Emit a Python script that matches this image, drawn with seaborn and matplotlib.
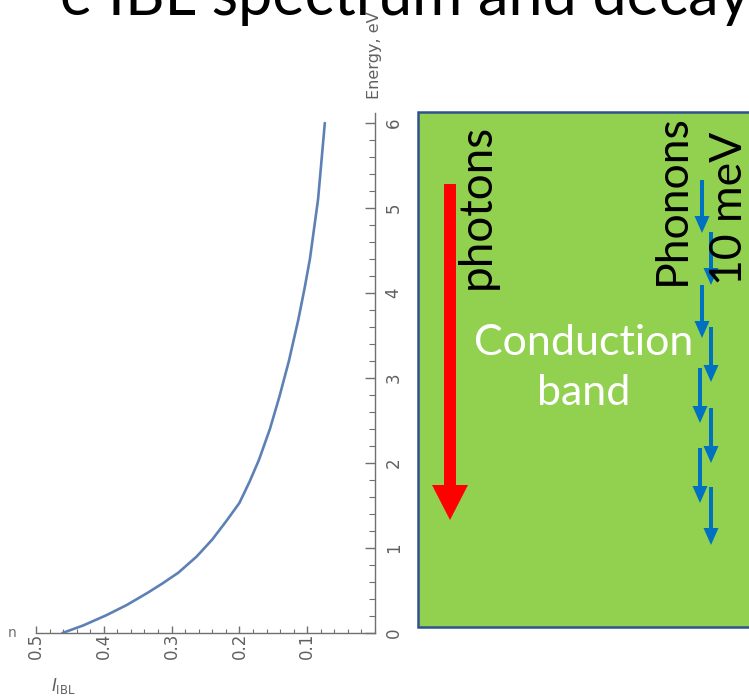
import numpy as np
import pandas as pd
import matplotlib
matplotlib.use("Agg")
import matplotlib.pyplot as plt
import seaborn as sns
from matplotlib.patches import Rectangle, FancyArrow
from matplotlib.ticker import MultipleLocator

# ---- data ----
energy_ev = [0.0, 0.09, 0.21, 0.33, 0.47, 0.58, 0.71, 0.90, 1.10, 1.32, 1.53, 1.78,
             2.04, 2.40, 2.78, 3.20, 3.69, 4.05, 4.40, 4.75, 5.10, 5.55, 6.00]
intensity_ibl = [0.461, 0.430, 0.396, 0.366, 0.336, 0.314, 0.290, 0.263, 0.240, 0.219,
                 0.200, 0.185, 0.171, 0.155, 0.141, 0.127, 0.113, 0.104, 0.096, 0.090,
                 0.084, 0.079, 0.074]
x_ticks = [0.5, 0.4, 0.3, 0.2, 0.1]
x_tick_labels = ["0.5", "0.4", "0.3", "0.2", "0.1"]
y_ticks = [0, 1, 2, 3, 4, 5, 6]
y_tick_labels = ["0", "1", "2", "3", "4", "5", "6"]
x_label = r"$I_{\rm IBL}$"
y_label = "Energy, eV"
title_text = "e IBL spectrum and decay"
photon_label = "photons"
band_line1 = "Conduction"
band_line2 = "band"
phonon_label = "Phonons"
phonon_energy_label = "10 meV"

sns.set_theme(style="ticks")
plt.rcParams["font.family"] = ["DejaVu Sans"]

W, H = 749, 700
fig = plt.figure(figsize=(W / 100, H / 100), dpi=100)
fig.patch.set_facecolor("white")

# ---- main plot (rotated-looking Mathematica plot) ----
ax_left, ax_right, ax_bottom, ax_top = 36, 375, 633, 113
ax = fig.add_axes([ax_left / W, 1 - ax_bottom / H,
                   (ax_right - ax_left) / W, (ax_bottom - ax_top) / H])
df = pd.DataFrame({"I": intensity_ibl, "E": energy_ev})
sns.lineplot(data=df, x="I", y="E", ax=ax, color="#5E81B5", lw=1.9,
             sort=False, estimator=None)
ax.set_xlim(0.5, 0.0)
ax.set_ylim(0, 6 * (ax_bottom - ax_top) / (633 - 123))
ax.patch.set_alpha(0)

for s in ["top", "left"]:
    ax.spines[s].set_visible(False)
for s in ["bottom", "right"]:
    ax.spines[s].set_color("#707070")
    ax.spines[s].set_linewidth(1.0)

ax.yaxis.tick_right()
ax.set_xticks(x_ticks)
ax.set_xticklabels(x_tick_labels)
ax.set_yticks(y_ticks)
ax.set_yticklabels(y_tick_labels)
ax.xaxis.set_minor_locator(MultipleLocator(0.02))
ax.yaxis.set_minor_locator(MultipleLocator(0.2))
ax.tick_params(axis="both", which="both", direction="in", color="#707070",
               labelcolor="#606060", labelsize=12)
ax.tick_params(axis="x", which="major", length=5, width=1, pad=0, labelrotation=90)
ax.tick_params(axis="x", which="minor", length=3, width=0.8)
ax.tick_params(axis="y", which="major", length=7, width=1, pad=7, labelrotation=90,
               left=False, right=True)
ax.tick_params(axis="y", which="minor", length=4, width=0.8, left=False, right=True)
for lab in ax.get_yticklabels():
    lab.set_va("center")

ax.set_xlabel(x_label, fontsize=12, color="#606060")
ax.set_ylabel(y_label, fontsize=11.5, color="#606060")
ax.xaxis.set_label_coords((63 - ax_left) / (ax_right - ax_left),
                          (ax_bottom - 686) / (ax_bottom - ax_top))
ax.yaxis.set_label_coords(1.0, (ax_bottom - 55) / (ax_bottom - ax_top))
ax.xaxis.label.set(ha="center", va="center")
ax.yaxis.label.set(ha="center", va="center", rotation=90, rotation_mode="default")

# ---- overlay diagram in pixel coordinates ----
ov = fig.add_axes([0, 0, 1, 1], zorder=5)
ov.set_xlim(0, W)
ov.set_ylim(H, 0)
ov.axis("off")
ov.patch.set_alpha(0)

ov.add_patch(Rectangle((418, 112), 360, 515, facecolor="#92D050",
                       edgecolor="#2F528F", lw=1.8))

ov.add_patch(FancyArrow(450, 184, 0, 336, width=12, head_width=36, head_length=35,
                        length_includes_head=True, color="#FF0000", lw=0))

phonon_x = [702, 711, 702, 711, 700, 711, 700, 711]
phonon_top = [180, 232, 285, 327, 368, 408, 448, 487]
phonon_tip = [233, 285, 338, 382, 423, 463, 503, 545]
for xx, y0, y1 in zip(phonon_x, phonon_top, phonon_tip):
    ov.add_patch(FancyArrow(xx, y0, 0, y1 - y0, width=4, head_width=15, head_length=17,
                            length_includes_head=True, color="#0070C0", lw=0))

fam = ["Lato", "DejaVu Sans"]
ov.text(477, 289, photon_label, rotation=90, ha="center", va="bottom", color="black",
        family=fam, fontsize=33)
ov.text(584, 355, band_line1, ha="center", va="baseline", color="white", family=fam, fontsize=31)
ov.text(584, 405, band_line2, ha="center", va="baseline", color="white", family=fam, fontsize=31)
ov.text(672, 285, phonon_label, rotation=90, ha="center", va="bottom", color="black",
        family=fam, fontsize=32)
ov.text(730, 285, phonon_energy_label, rotation=90, ha="center", va="bottom", color="black",
        family=fam, fontsize=32)

ov.text(60, 15, title_text, ha="left", va="baseline", color="black",
        family=fam, fontsize=44)
ov.text(12, 633, "n", ha="center", va="center", fontsize=10, color="#707070")

fig.savefig("out.png", dpi=100)
